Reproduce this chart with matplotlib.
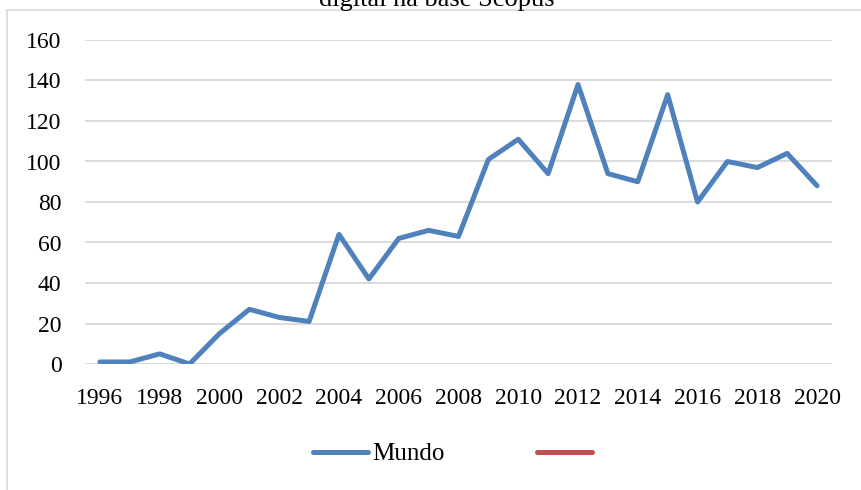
import matplotlib
matplotlib.use("Agg")
import matplotlib.pyplot as plt
from matplotlib.lines import Line2D

years = [str(y) for y in range(1996, 2021)]
mundo = [1, 1, 5, 0, 15, 27, 23, 21, 64, 42, 62, 66, 63, 101, 111, 94, 138, 94, 90, 133, 80, 100, 97, 104, 88]
title_text = "digital na base Scopus"
legend_labels = ["Mundo", ""]
yticks = [0, 20, 40, 60, 80, 100, 120, 140, 160]

plt.rcParams['font.family'] = ['Liberation Serif', 'DejaVu Serif']

fig = plt.figure(figsize=(8.61, 4.90), dpi=100)
ax = fig.add_axes([85/861, 1-364/490, (832-85)/861, (364-40)/490])

x = list(range(len(years)))
l1, = ax.plot(x, mundo, color='#4F81BD', lw=3.6, solid_capstyle='round', solid_joinstyle='round', zorder=3)
l2 = Line2D([], [], color='#C0504D', lw=3.6, solid_capstyle='round')

ax.set_xlim(-0.5, len(years) - 0.5)
ax.set_ylim(0, 160)
ax.set_yticks(yticks)
ax.set_xticks(x[::2])
ax.set_xticklabels(years[::2])
ax.tick_params(axis='both', length=0, labelsize=17, colors='black')
ax.tick_params(axis='y', pad=17)
ax.tick_params(axis='x', pad=17)
for s in ax.spines.values():
    s.set_visible(False)
ax.grid(axis='y', color='#D9D9D9', lw=1.3)
ax.set_axisbelow(True)

fig.legend([l1, l2], legend_labels, loc='center', bbox_to_anchor=(455/861, 1-454/490),
           ncol=2, frameon=False, fontsize=18, handlelength=2.2, handletextpad=0.2,
           columnspacing=3.7)

fig.text(437/861, 1-6/490, title_text, ha='center', va='baseline', fontsize=19)

# chart frame (left and top edges visible)
fig.add_artist(Line2D([7/861, 7/861], [0, 1-10/490], transform=fig.transFigure, color='#D9D9D9', lw=1.2))
fig.add_artist(Line2D([7/861, 1], [1-10/490, 1-10/490], transform=fig.transFigure, color='#D9D9D9', lw=1.2))

fig.savefig("out.png", dpi=100)
